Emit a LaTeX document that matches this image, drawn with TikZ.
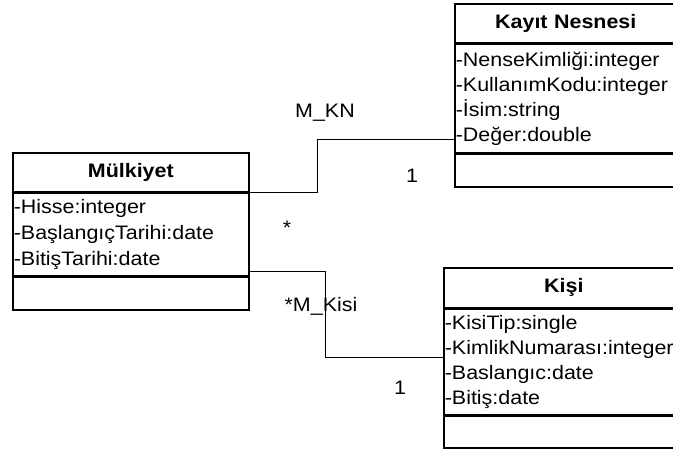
\documentclass[tikz,border=0pt]{standalone}
\usepackage{fontspec}
\newfontfamily\umlfont{Liberation Sans}[FakeStretch=1.1]
\usetikzlibrary{positioning}

\begin{document}
\begin{tikzpicture}[x=1pt,y=-1pt]

\tikzset{%
  compart/.style   = {draw,line width=1.6pt,inner xsep=1pt,inner ysep=0pt,
                      font=\umlfont\fontsize{19.5}{25}\selectfont},
  classname/.style = {compart,anchor=north west,align=center,
                      font=\umlfont\bfseries\fontsize{19.5}{25}\selectfont},
  attrs/.style     = {compart,align=left},
  assoc/.style     = {line width=1pt},
  mult/.style      = {anchor=base,inner sep=0pt,
                      font=\umlfont\fontsize{19.5}{25}\selectfont},
}

\useasboundingbox (0,0) rectangle (673,450);
\clip (0,0) rectangle (673,450);

% Mulkiyet
\node[classname,text width=234pt,minimum height=39pt] (mulk) at (12,152) {Mülkiyet};
\node[attrs,text width=234pt,minimum height=82pt,below=0pt of mulk] (mulk-attr)
  {-Hisse:integer\\[1pt]-BaşlangıçTarihi:date\\[1pt]-BitişTarihi:date};
\node[compart,text width=234pt,minimum height=33pt,below=0pt of mulk-attr] (mulk-ops) {};

% Kayit Nesnesi
\node[classname,text width=220pt,minimum height=39pt] (kayit) at (454,3) {Kayıt Nesnesi};
\node[attrs,text width=220pt,minimum height=108pt,below=0pt of kayit] (kayit-attr)
  {-NenseKimliği:integer\\-KullanımKodu:integer\\-İsim:string\\-Değer:double};
\node[compart,text width=220pt,minimum height=33pt,below=0pt of kayit-attr] (kayit-ops) {};

% Kisi
\node[classname,text width=238pt,minimum height=40pt] (kisi) at (443,267) {Kişi};
\node[attrs,text width=238pt,minimum height=105pt,below=0pt of kisi] (kisi-attr)
  {-KisiTip:single\\-KimlikNumarası:integer\\-Baslangıc:date\\-Bitiş:date};
\node[compart,text width=238pt,minimum height=32pt,below=0pt of kisi-attr] (kisi-ops) {};

% Associations
\coordinate (kn-bend) at (317,139);
\coordinate (mk-bend) at (325,357);

\draw[assoc] (mulk-attr.north east) -| (kn-bend) -- (kn-bend -| kayit-attr.west);
\draw[assoc] ([yshift=5pt]mulk-attr.south east) -| (mk-bend) -- (mk-bend -| kisi-attr.west);

\node[mult] (kn-name) at (325,117) {M\_KN};
\node[mult] (kn-one)  at (412,182) {1};
\node[mult] (mk-star) at (287,234) {*};
\node[mult] (mk-name) at (321,311) {*M\_Kisi};
\node[mult] (mk-one)  at (400,394) {1};

\end{tikzpicture}
\end{document}
